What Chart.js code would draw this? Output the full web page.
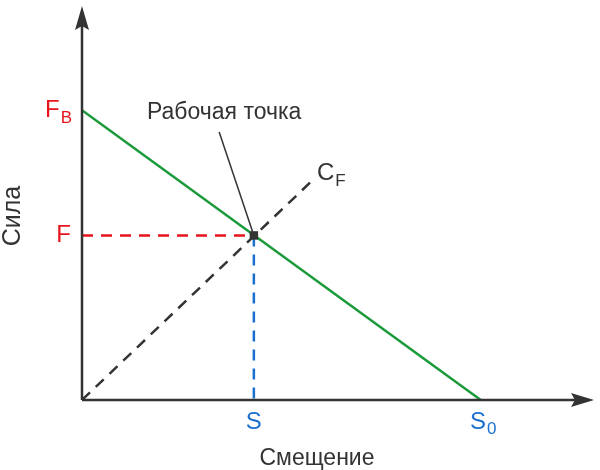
<!DOCTYPE html>
<html>
<head>
<meta charset="utf-8">
<script src="https://cdn.jsdelivr.net/npm/chart.js@4/dist/chart.umd.min.js"></script>
<style>
  html, body { margin: 0; padding: 0; background: #fff; }
  #wrap { width: 600px; height: 470px; position: relative; }
</style>
</head>
<body>
<div id="wrap"><canvas id="myChart"></canvas></div>
<script>
// values in relative units: S0 = 10, FB = 10
var xMax = 12.84, yMax = 13.6;           // axis arrow tips
var loadX = [0, 10], loadY = [10, 0];     // load line FB -> S0
var springX = [0, 5.74], springY = [0, 7.53]; // C_F line
var workX = 4.31, workY = 5.68;           // operating point (S, F)
var calloutX = [3.44, 4.31], calloutY = [9.25, 5.68];
var xTicks = [{ v: workX, t: 'S', sub: '' }, { v: 10, t: 'S', sub: '0' }];
var yTicks = [{ v: 10, t: 'F', sub: 'B' }, { v: workY, t: 'F', sub: '' }];
var xTitle = 'Смещение', yTitle = 'Сила';
var pointLabel = 'Рабочая точка', springLabel = 'C', springSub = 'F';

function pts(xs, ys) { return xs.map(function (x, i) { return { x: x, y: ys[i] }; }); }

var RED = '#e8141b', BLUE = '#1a6fcf', GREEN = '#1a9a3a', DARK = '#333333';
var FONT = '"Liberation Sans", Arial, sans-serif';

function subText(ctx, x, y, t, sub, size, align) {
  ctx.font = size + 'px ' + FONT;
  var w1 = ctx.measureText(t).width;
  ctx.font = Math.round(size * 0.7) + 'px ' + FONT;
  var w2 = sub ? ctx.measureText(sub).width : 0;
  var start = align === 'right' ? x - w1 - w2 : (align === 'center' ? x - (w1 + w2) / 2 : x);
  ctx.textAlign = 'left';
  ctx.textBaseline = 'middle';
  ctx.font = size + 'px ' + FONT;
  ctx.fillText(t, start, y);
  if (sub) {
    ctx.font = Math.round(size * 0.7) + 'px ' + FONT;
    ctx.fillText(sub, start + w1 + 1, y + size * 0.32);
  }
}

var decor = {
  id: 'decor',
  afterDatasetsDraw: function (chart) {
    var ctx = chart.ctx, xs = chart.scales.x, ys = chart.scales.y;
    var x0 = xs.getPixelForValue(0), y0 = ys.getPixelForValue(0);
    var xe = xs.getPixelForValue(xMax), ye = ys.getPixelForValue(yMax);
    ctx.save();
    // axes
    ctx.strokeStyle = DARK; ctx.fillStyle = DARK; ctx.lineWidth = 2.5;
    ctx.beginPath(); ctx.moveTo(x0, y0); ctx.lineTo(xe - 12, y0); ctx.stroke();
    ctx.beginPath(); ctx.moveTo(x0, y0); ctx.lineTo(x0, ye + 12); ctx.stroke();
    // arrow heads
    ctx.beginPath();
    ctx.moveTo(xe, y0); ctx.lineTo(xe - 23, y0 - 7); ctx.lineTo(xe - 19, y0); ctx.lineTo(xe - 23, y0 + 7);
    ctx.closePath(); ctx.fill();
    ctx.beginPath();
    ctx.moveTo(x0, ye); ctx.lineTo(x0 - 7, ye + 24); ctx.lineTo(x0, ye + 20); ctx.lineTo(x0 + 7, ye + 24);
    ctx.closePath(); ctx.fill();

    // tick labels
    ctx.fillStyle = BLUE;
    xTicks.forEach(function (k) { subText(ctx, xs.getPixelForValue(k.v) + (k.sub ? 2 : 0), y0 + 22, k.t, k.sub, 24, 'center'); });
    ctx.fillStyle = RED;
    yTicks.forEach(function (k) { subText(ctx, x0 - 11, ys.getPixelForValue(k.v), k.t, k.sub, 24, 'right'); });

    // titles
    ctx.fillStyle = DARK;
    subText(ctx, 317, 459, xTitle, '', 23, 'center');
    ctx.save();
    ctx.translate(13, ys.getPixelForValue(6.35));
    ctx.rotate(-Math.PI / 2);
    subText(ctx, 0, 0, yTitle, '', 25, 'center');
    ctx.restore();

    // annotations
    subText(ctx, xs.getPixelForValue(calloutX[0]) + 5, ys.getPixelForValue(calloutY[0]) - 19, pointLabel, '', 23, 'center');
    subText(ctx, xs.getPixelForValue(springX[1]) + 6, ys.getPixelForValue(springY[1]) - 8, springLabel, springSub, 24, 'left');
    ctx.restore();
  }
};

var ctx = document.getElementById('myChart').getContext('2d');
var myChart = new Chart(ctx, {
  type: 'scatter',
  data: {
    datasets: [{
      data: [{ x: workX, y: workY }],
      pointStyle: 'rect', pointRadius: 6, pointBackgroundColor: DARK, pointBorderWidth: 0,
      showLine: false, order: 0
    }, {
      data: pts(calloutX, calloutY),
      showLine: true, borderColor: DARK, borderWidth: 1.5, pointRadius: 0, order: 1
    }, {
      data: pts(loadX, loadY),
      showLine: true, borderColor: GREEN, borderWidth: 2.5, pointRadius: 0, order: 2
    }, {
      data: pts(springX, springY),
      showLine: true, borderColor: DARK, borderWidth: 2.5, borderDash: [11, 8], pointRadius: 0, order: 3
    }, {
      data: pts([0, workX], [workY, workY]),
      showLine: true, borderColor: RED, borderWidth: 2.5, borderDash: [11, 8], pointRadius: 0, order: 4
    }, {
      data: pts([workX, workX], [workY, 0]),
      showLine: true, borderColor: BLUE, borderWidth: 2.5, borderDash: [11, 8], pointRadius: 0, order: 4
    }]
  },
  options: {
    responsive: true,
    maintainAspectRatio: false,
    animation: false,
    layout: { padding: { left: 82, right: 3, top: 2, bottom: 70 } },
    plugins: { legend: { display: false }, tooltip: { enabled: false } },
    scales: {
      x: { type: 'linear', min: 0, max: xMax, display: false },
      y: { type: 'linear', min: 0, max: yMax, display: false }
    }
  },
  plugins: [decor]
});
</script>
</body>
</html>
